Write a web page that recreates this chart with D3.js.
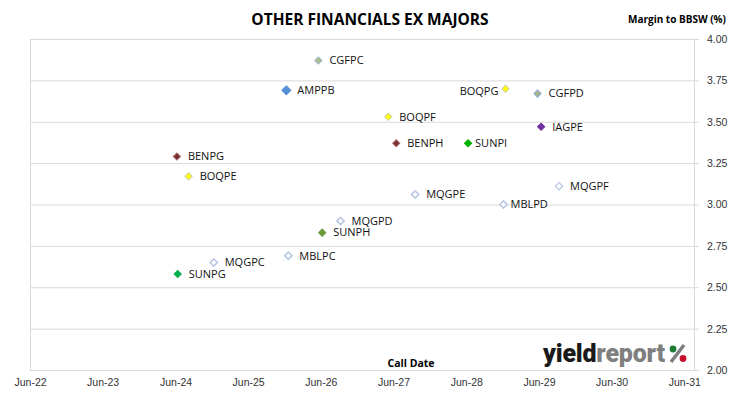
<!DOCTYPE html>
<meta charset="utf-8">
<style>
  body { margin: 0; background: #fff; }
  svg { font-family: "Open Sans", Lato, sans-serif; }
  .lbl { font-size: 11px; fill: #111; }
  .tick text { font-size: 10.5px; fill: #333; }
</style>
<body>
<div id="chart"></div>
<script src="https://d3js.org/d3.v7.min.js"></script>
<script>

// securities, call dates and margins
var codes   = ["CGFPC","AMPPB","BENPG","BOQPE","BOQPG","CGFPD","BOQPF","IAGPE","BENPH",
               "SUNPI","MQGPF","MQGPE","MBLPD","MQGPD","SUNPH","MBLPC","MQGPC","SUNPG"];
var calls   = ["2026-05-20","2025-12-10","2024-06-08","2024-08-06","2028-12-15","2029-05-25",
               "2027-05-06","2029-06-12","2027-06-15","2028-06-10","2029-09-10","2027-09-18",
               "2028-12-05","2026-09-08","2026-06-08","2025-12-20","2024-12-10","2024-06-12"];
var margins = [3.87, 3.69, 3.29, 3.17, 3.70, 3.67, 3.53, 3.47, 3.37,
               3.37, 3.11, 3.06, 3.00, 2.90, 2.83, 2.69, 2.65, 2.58];
var yTicks  = [2.00, 2.25, 2.50, 2.75, 3.00, 3.25, 3.50, 3.75, 4.00];
var xYears  = [2022, 2023, 2024, 2025, 2026, 2027, 2028, 2029, 2030, 2031];

// marker look per issuer
var look = {
  CGFPC: {fill: "#a9bf8c", stroke: "#9fb4cc", size: 26},
  CGFPD: {fill: "#a9b38a", stroke: "#8faccc", size: 26},
  AMPPB: {fill: "#558ed5", stroke: "#558ed5", size: 40},
  BENPG: {fill: "#7b2c2c", stroke: "#a46b6b", size: 26},
  BENPH: {fill: "#7b2c2c", stroke: "#a46b6b", size: 26},
  BOQPE: {fill: "#ffff00", stroke: "#d0d0a0", size: 26},
  BOQPF: {fill: "#ffff00", stroke: "#d0d0a0", size: 26},
  BOQPG: {fill: "#ffff00", stroke: "#d0d0a0", size: 26},
  IAGPE: {fill: "#7030a0", stroke: "#7030a0", size: 26},
  SUNPI: {fill: "#00b000", stroke: "#00b000", size: 26},
  SUNPG: {fill: "#00b050", stroke: "#00b050", size: 26},
  SUNPH: {fill: "#6a9a3a", stroke: "#6a9a3a", size: 26},
  MQGPC: {fill: "#fff", stroke: "#b8c8e2", size: 26},
  MQGPD: {fill: "#fff", stroke: "#b8c8e2", size: 26},
  MQGPE: {fill: "#fff", stroke: "#b8c8e2", size: 26},
  MQGPF: {fill: "#fff", stroke: "#c4d2e8", size: 26},
  MBLPC: {fill: "#fff", stroke: "#b8c8e2", size: 26},
  MBLPD: {fill: "#fff", stroke: "#b8c8e2", size: 26}
};

var data = codes.map(function(c, i) {
  return {code: c, date: d3.timeParse("%Y-%m-%d")(calls[i]), margin: margins[i]};
});

var W = 730, H = 399;
var plot = {left: 30, right: 694, top: 39, bottom: 370};

var svg = d3.select("#chart").append("svg")
  .attr("width", W).attr("height", H);

var x = d3.scaleTime()
  .domain([new Date(2022, 5, 1), new Date(2031, 6, 20)])
  .range([plot.left, plot.right]);

var y = d3.scaleLinear()
  .domain([2, 4])
  .range([plot.bottom, plot.top]);

// grid
svg.append("g").selectAll("line")
  .data(yTicks)
  .enter().append("line")
  .attr("x1", plot.left).attr("x2", plot.right)
  .attr("y1", function(d) { return y(d) + 0.5; })
  .attr("y2", function(d) { return y(d) + 0.5; })
  .style("stroke", "#d9d9d9");

svg.append("line")
  .attr("x1", plot.left + 0.5).attr("x2", plot.left + 0.5)
  .attr("y1", plot.top).attr("y2", plot.bottom)
  .style("stroke", "#d9d9d9");

// right y axis
var yAxis = svg.append("g")
  .attr("transform", "translate(" + plot.right + ",0)")
  .call(d3.axisRight(y).tickValues(yTicks).tickFormat(d3.format(".2f")).tickSize(5).tickPadding(8));
yAxis.select(".domain").style("stroke", "#d9d9d9");
yAxis.selectAll(".tick line").style("stroke", "#d9d9d9");

// bottom x axis
var xAxis = svg.append("g")
  .attr("transform", "translate(0," + plot.bottom + ")")
  .call(d3.axisBottom(x)
    .tickValues(xYears.map(function(yr) { return new Date(yr, 5, 1); }))
    .tickFormat(d3.timeFormat("Jun-%y"))
    .tickSize(0).tickPadding(9));
xAxis.select(".domain").style("stroke", "#d9d9d9");

// markers
var sym = d3.symbol().type(d3.symbolSquare);
svg.append("g").selectAll("path")
  .data(data)
  .enter().append("path")
  .attr("d", function(d) { return sym.size(look[d.code].size)(); })
  .attr("transform", function(d) {
    return "translate(" + x(d.date) + "," + y(d.margin) + ") rotate(45)";
  })
  .style("fill", function(d) { return look[d.code].fill; })
  .style("stroke", function(d) { return look[d.code].stroke; })
  .style("stroke-width", function(d) { return look[d.code].fill == "#fff" ? 1.6 : 1; });

// labels, BOQPG sits on the left of its marker
svg.append("g").selectAll("text")
  .data(data)
  .enter().append("text")
  .attr("class", "lbl")
  .attr("x", function(d) {
    if (d.code == "BOQPG") return x(d.date) - 7;
    if (d.code == "MBLPD" || d.code == "SUNPI") return x(d.date) + 7;
    return x(d.date) + 11;
  })
  .attr("y", function(d) { return y(d.margin) + (d.code == "BOQPG" ? 2 : 0); })
  .attr("dy", "0.35em")
  .attr("text-anchor", function(d) { return d.code == "BOQPG" ? "end" : "start"; })
  .text(function(d) { return d.code; });

// titles
svg.append("text")
  .attr("x", 370).attr("y", 25)
  .attr("text-anchor", "middle")
  .style("font-size", "15.5px").style("font-weight", "bold")
  .text("OTHER FINANCIALS EX MAJORS");

svg.append("text")
  .attr("x", 726).attr("y", 23)
  .attr("text-anchor", "end")
  .style("font-size", "10px").style("font-weight", "bold")
  .text("Margin to BBSW (%)");

svg.append("text")
  .attr("x", 411).attr("y", 367)
  .attr("text-anchor", "middle")
  .style("font-size", "10.5px").style("font-weight", "bold")
  .text("Call Date");

// logo
var logo = svg.append("text")
  .attr("x", 543).attr("y", 362)
  .attr("textLength", 122)
  .style("font-family", "Roboto, sans-serif")
  .style("font-size", "25px").style("font-weight", "900");
logo.append("tspan").style("fill", "#1a1a1a").text("yield");
logo.append("tspan").style("fill", "#7f7f7f").text("report");

svg.append("line")
  .attr("x1", 671).attr("y1", 362).attr("x2", 684).attr("y2", 345)
  .style("stroke", "#7f7f7f").style("stroke-width", 3.5);
svg.append("circle").attr("cx", 673).attr("cy", 349).attr("r", 3.4).style("fill", "#1e7b32");
svg.append("circle").attr("cx", 683).attr("cy", 358.5).attr("r", 3.4).style("fill", "#c8102e");

</script>
</body>
